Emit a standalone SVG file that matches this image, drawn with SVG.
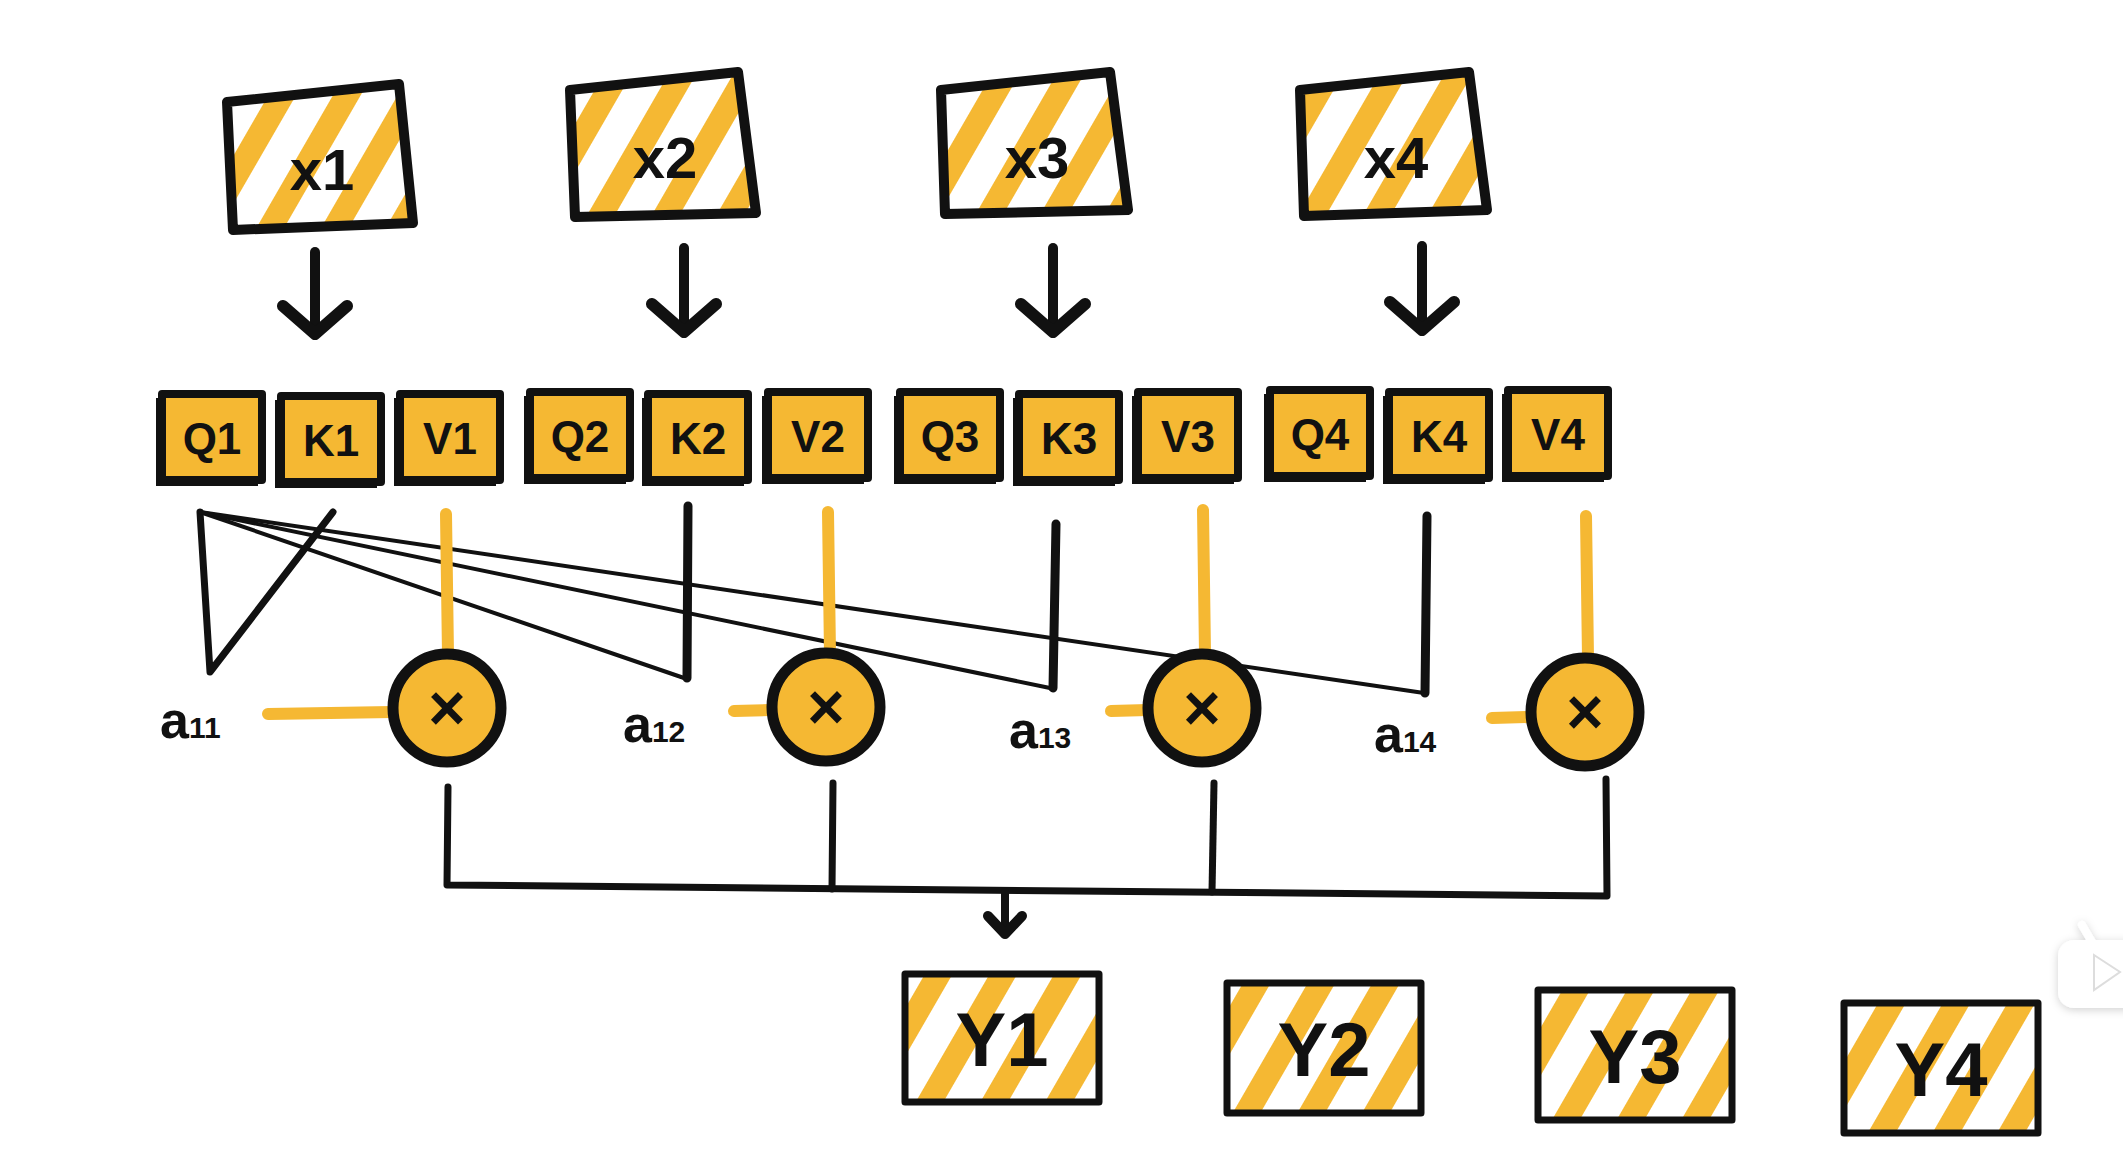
<svg xmlns="http://www.w3.org/2000/svg" width="2123" height="1161" viewBox="0 0 2123 1161">
<style>
.hand{font-family:"Liberation Sans","DejaVu Sans",sans-serif;font-weight:bold;fill:#111}
.big{font-size:58px}
.ylab{font-size:76px}
.sm{font-size:44px}
.alab{font-size:52px}
.sub{font-size:30px}
.box{fill:url(#hatch);stroke:#111;stroke-width:10;stroke-linejoin:round}
.ybox{fill:url(#hatch);stroke:#111;stroke-width:7;stroke-linejoin:round}
.kv{fill:#F5B833;stroke:#111;stroke-width:8;stroke-linejoin:round}
.kvs{fill:#111}
.circ{fill:#F5B833;stroke:#111;stroke-width:11}
.blk{stroke:#111;fill:none;stroke-linecap:round;stroke-linejoin:round}
.yel{stroke:#F5B833;fill:none;stroke-linecap:round;stroke-width:12}
</style>
<defs>
<pattern id="hatch" patternUnits="userSpaceOnUse" width="56" height="56" patternTransform="rotate(30)">
<rect width="56" height="56" fill="#fff"/>
<rect x="0" y="0" width="24" height="56" fill="#F5B833"/>
</pattern>
<marker id="ah" viewBox="0 0 40 80" refX="34" refY="40" markerWidth="40" markerHeight="80" orient="auto" markerUnits="userSpaceOnUse">
<path d="M6,8 L34,40 L6,72" fill="none" stroke="#111" stroke-width="12" stroke-linejoin="round" stroke-linecap="round"/>
</marker>
<marker id="ah2" viewBox="0 0 30 50" refX="24" refY="25" markerWidth="30" markerHeight="50" orient="auto" markerUnits="userSpaceOnUse">
<path d="M6,8 L24,25 L6,42" fill="none" stroke="#111" stroke-width="10" stroke-linejoin="round" stroke-linecap="round"/>
</marker>
<filter id="sh" x="-30%" y="-30%" width="160%" height="160%">
<feDropShadow dx="0" dy="2" stdDeviation="4" flood-color="#000" flood-opacity="0.18"/>
</filter>
</defs>
<rect width="2123" height="1161" fill="#fff"/>

<!-- input nodes -->
<g id="x1"><polygon class="box" points="227,102 399,84 413,223 233,230"/><text class="hand big" x="322" y="190" text-anchor="middle">x1</text></g>
<g id="x2"><polygon class="box" points="570,90 738,72 756,213 575,217"/><text class="hand big" x="665" y="178" text-anchor="middle">x2</text></g>
<g id="x3"><polygon class="box" points="941,90 1110,72 1128,210 945,214"/><text class="hand big" x="1037" y="178" text-anchor="middle">x3</text></g>
<g id="x4"><polygon class="box" points="1300,90 1469,72 1487,210 1304,216"/><text class="hand big" x="1396" y="178" text-anchor="middle">x4</text></g>

<!-- q k v nodes -->
<g id="q1"><rect class="kvs" x="156" y="398" width="102" height="88"/><rect class="kv" x="162" y="394" width="100" height="86"/><text class="hand sm" x="212" y="454" text-anchor="middle">Q1</text></g>
<g id="k1"><rect class="kvs" x="275" y="400" width="102" height="88"/><rect class="kv" x="281" y="396" width="100" height="86"/><text class="hand sm" x="331" y="456" text-anchor="middle">K1</text></g>
<g id="v1"><rect class="kvs" x="394" y="398" width="102" height="88"/><rect class="kv" x="400" y="394" width="100" height="86"/><text class="hand sm" x="450" y="454" text-anchor="middle">V1</text></g>
<g id="q2"><rect class="kvs" x="524" y="396" width="102" height="88"/><rect class="kv" x="530" y="392" width="100" height="86"/><text class="hand sm" x="580" y="452" text-anchor="middle">Q2</text></g>
<g id="k2"><rect class="kvs" x="642" y="398" width="102" height="88"/><rect class="kv" x="648" y="394" width="100" height="86"/><text class="hand sm" x="698" y="454" text-anchor="middle">K2</text></g>
<g id="v2"><rect class="kvs" x="762" y="396" width="102" height="88"/><rect class="kv" x="768" y="392" width="100" height="86"/><text class="hand sm" x="818" y="452" text-anchor="middle">V2</text></g>
<g id="q3"><rect class="kvs" x="894" y="396" width="102" height="88"/><rect class="kv" x="900" y="392" width="100" height="86"/><text class="hand sm" x="950" y="452" text-anchor="middle">Q3</text></g>
<g id="k3"><rect class="kvs" x="1013" y="398" width="102" height="88"/><rect class="kv" x="1019" y="394" width="100" height="86"/><text class="hand sm" x="1069" y="454" text-anchor="middle">K3</text></g>
<g id="v3"><rect class="kvs" x="1132" y="396" width="102" height="88"/><rect class="kv" x="1138" y="392" width="100" height="86"/><text class="hand sm" x="1188" y="452" text-anchor="middle">V3</text></g>
<g id="q4"><rect class="kvs" x="1264" y="394" width="102" height="88"/><rect class="kv" x="1270" y="390" width="100" height="86"/><text class="hand sm" x="1320" y="450" text-anchor="middle">Q4</text></g>
<g id="k4"><rect class="kvs" x="1383" y="396" width="102" height="88"/><rect class="kv" x="1389" y="392" width="100" height="86"/><text class="hand sm" x="1439" y="452" text-anchor="middle">K4</text></g>
<g id="v4"><rect class="kvs" x="1502" y="394" width="102" height="88"/><rect class="kv" x="1508" y="390" width="100" height="86"/><text class="hand sm" x="1558" y="450" text-anchor="middle">V4</text></g>

<!-- connectors -->
<g id="connectors">
<path class="blk" stroke-width="10" d="M315,252 L315,334" marker-end="url(#ah)"/>
<path class="blk" stroke-width="10" d="M684,248 L684,332" marker-end="url(#ah)"/>
<path class="blk" stroke-width="10" d="M1053,248 L1053,332" marker-end="url(#ah)"/>
<path class="blk" stroke-width="10" d="M1422,246 L1422,330" marker-end="url(#ah)"/>

<path class="blk" stroke-width="7" d="M200,512 L210,672 L333,512"/>
<path class="blk" stroke-width="4" d="M200,512 L684,678"/>
<path class="blk" stroke-width="4" d="M200,512 L1050,688"/>
<path class="blk" stroke-width="4" d="M200,512 L1424,693"/>
<path class="blk" stroke-width="9" d="M688,506 L687,678"/>
<path class="blk" stroke-width="9" d="M1056,524 L1053,688"/>
<path class="blk" stroke-width="9" d="M1427,516 L1425,693"/>

<path class="yel" d="M446,514 L448,655"/>
<path class="yel" d="M828,512 L830,654"/>
<path class="yel" d="M1203,510 L1205,654"/>
<path class="yel" d="M1586,516 L1588,658"/>
<path class="yel" d="M268,714 L392,712"/>
<path class="yel" d="M734,711 L770,710"/>
<path class="yel" d="M1111,711 L1148,710"/>
<path class="yel" d="M1492,718 L1530,717"/>

<path class="blk" stroke-width="7" d="M448,787 L447,885 L1607,896 L1606,779"/>
<path class="blk" stroke-width="7" d="M833,783 L832,889"/>
<path class="blk" stroke-width="7" d="M1214,783 L1212,892"/>
<path class="blk" stroke-width="8" d="M1005,892 L1005,934" marker-end="url(#ah2)"/>
</g>

<!-- product nodes -->
<g id="m1"><ellipse class="circ" cx="447" cy="708" rx="54" ry="54"/><text class="hand" font-size="64" x="447" y="730" text-anchor="middle">×</text></g>
<g id="m2"><ellipse class="circ" cx="826" cy="707" rx="54" ry="54"/><text class="hand" font-size="64" x="826" y="729" text-anchor="middle">×</text></g>
<g id="m3"><ellipse class="circ" cx="1202" cy="708" rx="54" ry="54"/><text class="hand" font-size="64" x="1202" y="730" text-anchor="middle">×</text></g>
<g id="m4"><ellipse class="circ" cx="1585" cy="712" rx="54" ry="54"/><text class="hand" font-size="64" x="1585" y="734" text-anchor="middle">×</text></g>

<!-- attention score labels -->
<g id="a11"><text class="hand alab" x="160" y="738">a<tspan class="sub">11</tspan></text></g>
<g id="a12"><text class="hand alab" x="623" y="742">a<tspan class="sub">12</tspan></text></g>
<g id="a13"><text class="hand alab" x="1009" y="748">a<tspan class="sub">13</tspan></text></g>
<g id="a14"><text class="hand alab" x="1374" y="752">a<tspan class="sub">14</tspan></text></g>

<!-- output nodes -->
<g id="y1"><rect class="ybox" x="905" y="974" width="194" height="128"/><text class="hand ylab" x="1002" y="1066" text-anchor="middle">Y1</text></g>
<g id="y2"><rect class="ybox" x="1227" y="983" width="194" height="130"/><text class="hand ylab" x="1324" y="1076" text-anchor="middle">Y2</text></g>
<g id="y3"><rect class="ybox" x="1538" y="990" width="194" height="130"/><text class="hand ylab" x="1635" y="1083" text-anchor="middle">Y3</text></g>
<g id="y4"><rect class="ybox" x="1844" y="1003" width="194" height="130"/><text class="hand ylab" x="1941" y="1096" text-anchor="middle">Y4</text></g>

<!-- player badge at edge -->
<g id="badge" filter="url(#sh)">
<path d="M2082,925 L2092,942" stroke="#fff" stroke-width="8" stroke-linecap="round"/>
<rect x="2058" y="940" width="90" height="68" rx="16" fill="#fff"/>
<path d="M2094,955 L2094,990 L2120,972 Z" fill="#fff" stroke="#ddd" stroke-width="2"/>
</g>
</svg>
